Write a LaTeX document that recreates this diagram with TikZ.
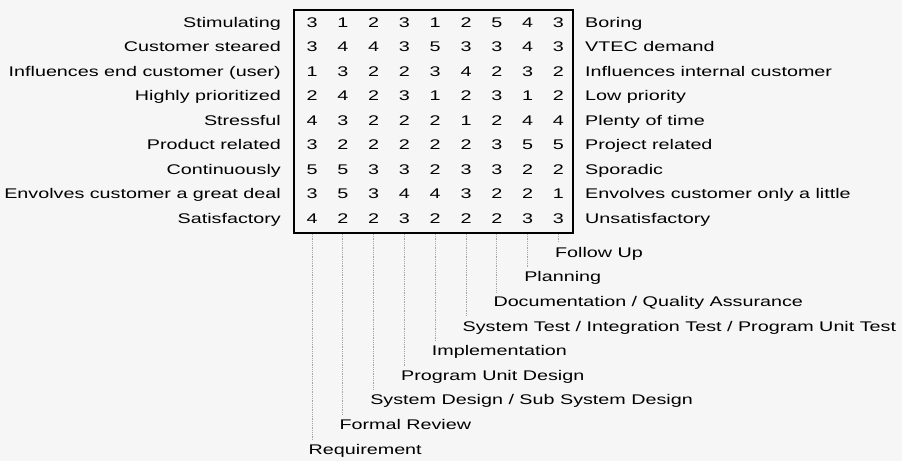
\documentclass[tikz,border=0pt]{standalone}
\usepackage{fontspec}
\setmainfont{Liberation Sans}[FakeStretch=1.41]
\usepackage{tikz}
\definecolor{rastergrau}{RGB}{246,246,246}
\definecolor{liniengrau}{RGB}{165,165,165}

\begin{document}
\begin{tikzpicture}[x=1pt, y=-1pt, font=\fontsize{14}{16}\selectfont,
	wert/.style={anchor=base, inner sep=0pt},
	links/.style={anchor=base east, inner sep=0pt},
	rechts/.style={anchor=base west, inner sep=0pt},
	phase/.style={anchor=base west, inner sep=0pt},
	linie/.style={liniengrau, densely dotted, line width=0.8pt, shorten >=4pt}]
	%Hintergrund
	\fill[rastergrau] (0,0) rectangle (902,461);
	\useasboundingbox (0,0) rectangle (902,461);
	%Rahmen
	\draw[line width=1.6pt] (294,10) rectangle (573,233);
	%Gegensatzpaare
	\foreach \l/\r [count=\i] in {Stimulating/Boring, Customer steared/VTEC demand,
		Influences end customer (user)/Influences internal customer,
		Highly prioritized/Low priority, Stressful/Plenty of time,
		Product related/Project related, Continuously/Sporadic,
		Envolves customer a great deal/Envolves customer only a little,
		Satisfactory/Unsatisfactory}
	{
		\node[links] (l\i) at (281, {27+24.5*(\i-1)}) {\l};
		\node[rechts] (r\i) at (585, {27+24.5*(\i-1)}) {\r};
	}
	%Werte
	\foreach \zeile [count=\i] in {{3,1,2,3,1,2,5,4,3}, {3,4,4,3,5,3,3,4,3},
		{1,3,2,2,3,4,2,3,2}, {2,4,2,3,1,2,3,1,2}, {4,3,2,2,2,1,2,4,4},
		{3,2,2,2,2,2,3,5,5}, {5,5,3,3,2,3,3,2,2}, {3,5,3,4,4,3,2,2,1},
		{4,2,2,3,2,2,2,3,3}}
		\foreach \w [count=\j] in \zeile
			\node[wert] (w\i-\j) at ({312+30.8*(\j-1)}, {27+24.5*(\i-1)}) {\w};
	%Phasen
	\foreach \p [count=\k] in {Requirement, Formal Review,
		{System Design / Sub System Design}, Program Unit Design, Implementation,
		{System Test / Integration Test / Program Unit Test},
		{Documentation / Quality Assurance}, Planning, Follow Up}
	{
		\node[phase] (p\k) at ({308.5+30.8*(\k-1)}, {454-24.6*(\k-1)}) {\p};
		\coordinate (o\k) at ({312+30.8*(\k-1)}, 234);
		\draw[linie] (o\k) -- (o\k |- p\k.north);
	}
\end{tikzpicture}
\end{document}
